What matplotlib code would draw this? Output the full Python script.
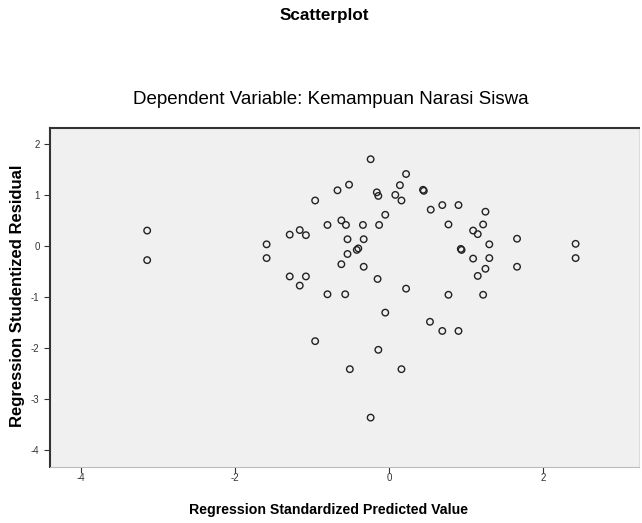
import matplotlib
matplotlib.use("Agg")
import matplotlib.pyplot as plt

plt.rcParams['font.family'] = ['Liberation Sans', 'DejaVu Sans']
plt.rcParams['axes.unicode_minus'] = False

# predicted value (x) vs studentized residual (y)
pred = [-3.14, -3.14,
        -0.24, 0.22, 0.14, -0.52, -0.67, -0.16, -0.14, 0.08, 0.16, -0.96,
        -0.05, -0.80, -0.62, -0.56, -0.34, -0.13, -1.29, -1.16, -1.08,
        -1.59, -1.59, -0.54, -0.33, -0.40, -0.42, -0.54, -0.62, -0.33,
        -1.29, -1.08, -1.16, -0.15, 0.22, -0.80, -0.57, -0.05,
        0.44, 0.45, 0.54, 0.69, 0.90, 1.25, 0.77, 1.22, 1.09, 1.15, 1.66,
        1.30, 2.42, 2.42, 0.93, 0.94, 1.09, 1.30, 1.25, 1.15, 1.66,
        0.77, 1.22, 0.53, 0.69, 0.90, 0.16,
        -0.96, -0.14, -0.51, -0.24]
resid = [0.30, -0.28,
         1.70, 1.41, 1.19, 1.20, 1.09, 1.05, 0.98, 1.00, 0.89, 0.89,
         0.61, 0.41, 0.50, 0.41, 0.41, 0.41, 0.22, 0.31, 0.21,
         0.03, -0.24, 0.13, 0.13, -0.05, -0.08, -0.16, -0.36, -0.41,
         -0.60, -0.60, -0.78, -0.65, -0.84, -0.95, -0.95, -1.31,
         1.10, 1.08, 0.71, 0.80, 0.80, 0.67, 0.42, 0.42, 0.30, 0.23, 0.14,
         0.03, 0.04, -0.24, -0.06, -0.08, -0.25, -0.24, -0.45, -0.59, -0.41,
         -0.96, -0.96, -1.49, -1.67, -1.67, -2.42,
         -1.87, -2.04, -2.42, -3.37]

xticks = [-4, -2, 0, 2]
yticks = [2, 1, 0, -1, -2, -3, -4]

fig = plt.figure(figsize=(6.42, 5.23), dpi=100)
ax = fig.add_axes([0.078, 0.108, 0.917, 0.647])
ax.set_facecolor('#f0f0f0')

ax.scatter(pred, resid, s=22, facecolors='none', edgecolors='#222222', linewidths=1.0)

ax.set_xlim(-4.40, 3.24)
ax.set_ylim(-4.33, 2.31)
ax.set_xticks(xticks)
ax.set_yticks(yticks)
ax.tick_params(axis='both', labelsize=7, colors='#333333', length=4, width=0.8)
ax.tick_params(axis='x', pad=1)

ax.spines['top'].set_color('#333333')
ax.spines['top'].set_linewidth(1.5)
ax.spines['left'].set_color('#333333')
ax.spines['left'].set_linewidth(1.5)
ax.spines['bottom'].set_color('#bbbbbb')
ax.spines['right'].set_color('#dddddd')

ax.set_ylabel('Regression Studentized Residual', fontsize=12.0, fontweight='bold')
ax.yaxis.set_label_coords(-0.042, 0.505)

fig.text(0.511, 0.025, 'Regression Standardized Predicted Value', ha='center', va='center',
         fontsize=10.2, fontweight='bold')
fig.text(0.505, 0.971, 'Scatterplot', ha='center', va='center', fontsize=12.3, fontweight='bold')
fig.text(0.516, 0.809, 'Dependent Variable: Kemampuan Narasi Siswa', ha='center', va='center',
         fontsize=13.5)

fig.savefig('out.png', dpi=100)
